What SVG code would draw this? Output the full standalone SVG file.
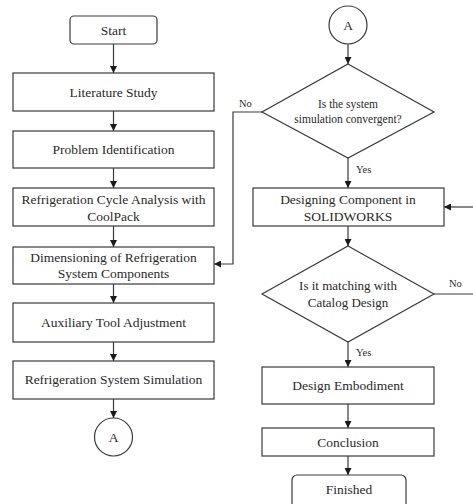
<svg xmlns="http://www.w3.org/2000/svg" width="473" height="504" viewBox="0 0 473 504">
<style>
.box{fill:#fff;stroke:#3a3a3a;stroke-width:1.2}
.t{font-size:13.5px;fill:#2a2a2a;text-anchor:middle}
.s{font-size:11.5px}
.m{font-size:13px}
.lbl{font-size:10.5px;fill:#2a2a2a}
.ln{fill:none;stroke:#3a3a3a;stroke-width:1.2}
</style>
<defs>
<marker id="ah" viewBox="0 0 10 10" refX="10" refY="5" markerWidth="7" markerHeight="7" markerUnits="userSpaceOnUse" orient="auto">
<path d="M0,0 L10,5 L0,10 z" fill="#1a1a1a"/>
</marker>
</defs>
<rect width="473" height="504" fill="#fff"/>
<g font-family="Liberation Serif, Times New Roman, serif">
<g id="connectors">
<line class="ln" x1="113.5" y1="44" x2="113.5" y2="73" marker-end="url(#ah)"/>
<line class="ln" x1="113.5" y1="111" x2="113.5" y2="131" marker-end="url(#ah)"/>
<line class="ln" x1="113.5" y1="168" x2="113.5" y2="188" marker-end="url(#ah)"/>
<line class="ln" x1="113.5" y1="226" x2="113.5" y2="247" marker-end="url(#ah)"/>
<line class="ln" x1="113.5" y1="284" x2="113.5" y2="303" marker-end="url(#ah)"/>
<line class="ln" x1="113.5" y1="342" x2="113.5" y2="361" marker-end="url(#ah)"/>
<line class="ln" x1="113.5" y1="399" x2="113.5" y2="418" marker-end="url(#ah)"/>
<line class="ln" x1="348" y1="44" x2="348" y2="64" marker-end="url(#ah)"/>
<polyline class="ln" points="262,112 233,112 233,264 214,264" marker-end="url(#ah)"/>
<line class="ln" x1="348" y1="158" x2="348" y2="188" marker-end="url(#ah)"/>
<line class="ln" x1="473" y1="207" x2="444" y2="207" marker-end="url(#ah)"/>
<line class="ln" x1="348" y1="226" x2="348" y2="246" marker-end="url(#ah)"/>
<line class="ln" x1="434" y1="294" x2="473" y2="294"/>
<line class="ln" x1="348" y1="342" x2="348" y2="367" marker-end="url(#ah)"/>
<line class="ln" x1="348" y1="404" x2="348" y2="428" marker-end="url(#ah)"/>
<line class="ln" x1="348" y1="456" x2="348" y2="475" marker-end="url(#ah)"/>
<text class="lbl" x="239" y="107">No</text>
<text class="lbl" x="356" y="173">Yes</text>
<text class="lbl" x="449" y="287">No</text>
<text class="lbl" x="356" y="356">Yes</text>
</g>
<g id="start"><rect class="box" x="70" y="16" width="87" height="28" rx="4"/><text class="t" x="113.5" y="34.5">Start</text></g>
<g id="literature"><rect class="box" x="13" y="73" width="201" height="38"/><text class="t" x="113.5" y="96.5">Literature Study</text></g>
<g id="problem"><rect class="box" x="13" y="131" width="201" height="37"/><text class="t" x="113.5" y="154">Problem Identification</text></g>
<g id="cycle"><rect class="box" x="13" y="188" width="201" height="38"/><text class="t" x="113.5" y="203.5">Refrigeration Cycle Analysis with</text><text class="t" x="113.5" y="220.5">CoolPack</text></g>
<g id="dimensioning"><rect class="box" x="13" y="247" width="201" height="37"/><text class="t" x="113.5" y="261.5">Dimensioning of Refrigeration</text><text class="t" x="113.5" y="277.5">System Components</text></g>
<g id="auxiliary"><rect class="box" x="13" y="303" width="201" height="39"/><text class="t" x="113.5" y="326.5">Auxiliary Tool Adjustment</text></g>
<g id="simulation"><rect class="box" x="13" y="361" width="201" height="38"/><text class="t" x="113.5" y="383.5">Refrigeration System Simulation</text></g>
<g id="connA1"><circle class="box" cx="113.5" cy="437" r="19"/><text class="t" x="113.5" y="441.5">A</text></g>
<g id="connA2"><circle class="box" cx="348" cy="25" r="19"/><text class="t" x="348" y="29.5">A</text></g>
<g id="decision1"><polygon class="box" points="348,64 434,112 348,158 262,112"/><text class="t s" x="348" y="108">Is the system</text><text class="t s" x="348" y="123">simulation convergent?</text></g>
<g id="designing"><rect class="box" x="253" y="188" width="191" height="38"/><text class="t" x="348" y="203.5">Designing Component in</text><text class="t" x="348" y="220.5">SOLIDWORKS</text></g>
<g id="decision2"><polygon class="box" points="348,246 434,294 348,342 262,294"/><text class="t m" x="348" y="289.5">Is it matching with</text><text class="t m" x="348" y="306.5">Catalog Design</text></g>
<g id="embodiment"><rect class="box" x="262" y="367" width="172" height="37"/><text class="t" x="348" y="389.5">Design Embodiment</text></g>
<g id="conclusion"><rect class="box" x="262" y="428" width="172" height="28"/><text class="t" x="348" y="446.5">Conclusion</text></g>
<g id="finished"><rect class="box" x="292" y="475" width="114" height="34" rx="5"/><text class="t" x="349" y="493.5">Finished</text></g>
</g>
</svg>
